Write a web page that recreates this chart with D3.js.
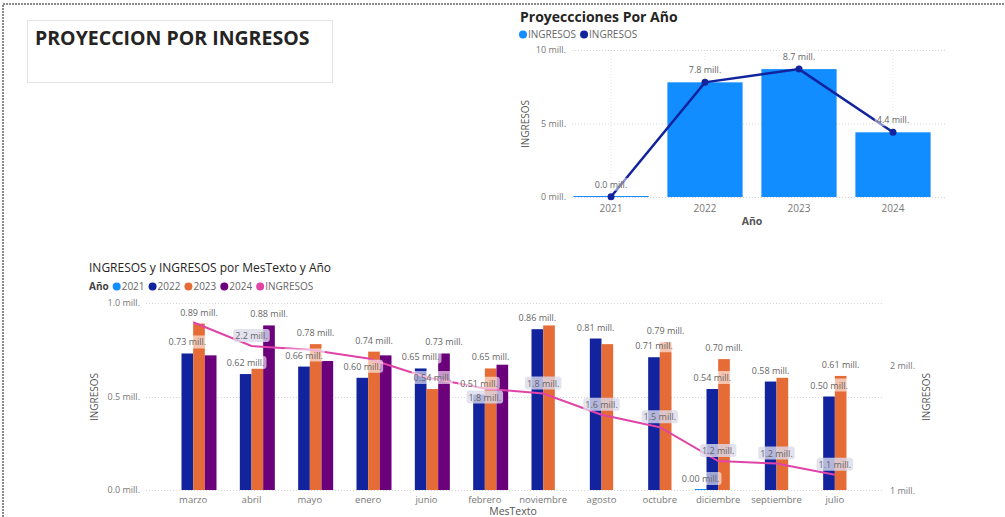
<!DOCTYPE html>
<meta charset='utf-8'>
<style>
  body{margin:0;background:#fff;}
  svg{font-family:'Open Sans','Noto Sans',sans-serif;}
  .grid line{stroke:#d6d6d6;stroke-dasharray:1,2;}
  .tick-lbl{fill:#777;font-size:9px;}
  .dlbl{fill:#666;font-size:9px;}
</style>
<svg width='1005' height='517'></svg>
<script src="https://d3js.org/d3.v7.min.js"></script>
<script>
  // ---- top chart data
  var annos = ['2021', '2022', '2023', '2024'];
  var ingresosAnio = [0.02, 7.8, 8.7, 4.4];
  var anioTicks = [0, 5, 10];

  // ---- bottom chart data
  var meses = ['marzo','abril','mayo','enero','junio','febrero','noviembre','agosto','octubre','diciembre','septiembre','julio'];
  var serieAnios = ['2021', '2022', '2023', '2024'];
  var v2021 = [null, null, null, null, null, null, null, null, null, 0.0, null, null];
  var v2022 = [0.73, 0.62, 0.66, 0.60, 0.65, 0.51, 0.86, 0.81, 0.71, 0.54, 0.58, 0.50];
  var v2023 = [0.89, 0.65, 0.78, 0.74, 0.54, 0.65, 0.88, 0.78, 0.79, 0.70, 0.60, 0.61];
  var v2024 = [0.72, 0.88, 0.69, 0.72, 0.73, 0.67, null, null, null, null, null, null];
  var lineaIngresos = [2.35, 2.16, 2.13, 2.06, 1.91, 1.82, 1.78, 1.61, 1.51, 1.24, 1.22, 1.13];
  var leftTicks = [0, 0.5, 1.0];
  var rightTicks = [1, 2];
  // labels shown on the bars (mes|año), the rest are hidden like in the report
  var barLabels = ['marzo|2022','marzo|2023','abril|2022','abril|2024','mayo|2022','mayo|2023',
    'enero|2022','enero|2023','junio|2022','junio|2023','junio|2024','febrero|2022','febrero|2023',
    'noviembre|2022','agosto|2022','octubre|2022','octubre|2023','diciembre|2021','diciembre|2022',
    'diciembre|2023','septiembre|2022','julio|2022','julio|2023'];
  var lineLabels = ['abril','febrero','noviembre','agosto','octubre','diciembre','septiembre','julio'];

  var colores = {'2021':'#118DFF','2022':'#12239E','2023':'#E66C37','2024':'#6B007B'};
  var rosa = '#E044A7';

  var svg = d3.select('svg');

  // page frame (dotted, top and left edges visible)
  svg.append('path').attr('d', 'M3,520 V4 H1005')
    .attr('fill', 'none').attr('stroke', '#8a8a8a').attr('stroke-width', 2).attr('stroke-dasharray', '2,1');

  // title card
  svg.append('rect').attr('x', 27.5).attr('y', 20.5).attr('width', 305).attr('height', 62)
    .attr('fill', '#fff').attr('stroke', '#e4e4e4');
  svg.append('text').attr('x', 35).attr('y', 45).attr('font-size', 19.5).attr('font-weight', 'bold')
    .attr('fill', '#252423').text('PROYECCION POR INGRESOS');

  function legend(g, items, x, y) {
    items.forEach(function(it) {
      if (it.color) {
        g.append('circle').attr('cx', x + 4).attr('cy', y - 3.5).attr('r', 4).attr('fill', it.color);
        x += 9;
      }
      var t = g.append('text').attr('x', x).attr('y', y).attr('font-size', 10)
        .attr('fill', it.bold ? '#444' : '#666').attr('font-weight', it.bold ? 'bold' : null).text(it.text);
      x += t.node().getComputedTextLength() + 4;
    });
  }

  function labelBox(g, x, y, txt, bg, op) {
    var t = g.append('text').attr('class', 'dlbl').attr('x', x).attr('y', y + 3).attr('text-anchor', 'middle').text(txt);
    var w = t.node().getComputedTextLength();
    g.insert('rect', function() { return t.node(); })
      .attr('x', x - w / 2 - 2).attr('y', y - 7).attr('width', w + 4).attr('height', 13).attr('rx', 3)
      .attr('fill', bg).attr('opacity', op);
  }

  // ================= top chart
  var gTop = svg.append('g');
  gTop.append('text').attr('x', 520).attr('y', 22).attr('font-size', 14).attr('font-weight', 'bold')
    .attr('fill', '#252423').text('Proyeccciones Por Año');
  legend(gTop, [{text:'INGRESOS', color:'#118DFF'}, {text:'INGRESOS', color:'#12239E'}], 519, 38);

  var xa = d3.scaleBand().domain(annos).range([564, 940]).paddingInner(0.2).paddingOuter(0.1);
  var ya = d3.scaleLinear().domain([0, 10]).range([197, 50]);

  var ga = gTop.append('g').attr('class', 'grid');
  ga.selectAll('line.h').data(anioTicks).enter().append('line')
    .attr('x1', 572).attr('x2', 945).attr('y1', function(d) { return ya(d) + 0.5; }).attr('y2', function(d) { return ya(d) + 0.5; });
  ga.selectAll('line.v').data(annos).enter().append('line')
    .attr('x1', function(d) { return xa(d) + xa.bandwidth() / 2; }).attr('x2', function(d) { return xa(d) + xa.bandwidth() / 2; })
    .attr('y1', 50).attr('y2', 197).style('opacity', 0.6);

  gTop.selectAll('text.yt').data(anioTicks).enter().append('text').attr('class', 'tick-lbl')
    .attr('x', 566).attr('y', function(d) { return ya(d) + 3; }).attr('text-anchor', 'end')
    .text(function(d) { return d + ' mill.'; });
  gTop.selectAll('text.xt').data(annos).enter().append('text').attr('class', 'tick-lbl')
    .attr('x', function(d) { return xa(d) + xa.bandwidth() / 2; }).attr('y', 212).attr('text-anchor', 'middle')
    .style('font-size', '10px').text(function(d) { return d; });
  gTop.append('text').attr('x', 752).attr('y', 225).attr('text-anchor', 'middle').attr('font-size', 10.5)
    .attr('font-weight', 'bold').attr('fill', '#555').text('Año');
  gTop.append('text').attr('transform', 'translate(529,124) rotate(-90)').attr('text-anchor', 'middle')
    .attr('font-size', 10).attr('fill', '#555').text('INGRESOS');

  gTop.selectAll('rect.bar').data(ingresosAnio).enter().append('rect')
    .attr('x', function(d, i) { return xa(annos[i]); })
    .attr('y', function(d) { return Math.min(ya(d), ya(0) - 1); })
    .attr('width', xa.bandwidth())
    .attr('height', function(d) { return Math.max(ya(0) - ya(d), 1); })
    .attr('fill', '#118DFF');

  var lineA = d3.line().x(function(d, i) { return xa(annos[i]) + xa.bandwidth() / 2; }).y(function(d) { return ya(d); });
  gTop.append('path').attr('d', lineA(ingresosAnio)).attr('fill', 'none').attr('stroke', '#12239E').attr('stroke-width', 2.5);
  gTop.selectAll('circle.pt').data(ingresosAnio).enter().append('circle')
    .attr('cx', function(d, i) { return xa(annos[i]) + xa.bandwidth() / 2; }).attr('cy', function(d) { return ya(d); })
    .attr('r', 3.5).attr('fill', '#12239E');
  ingresosAnio.forEach(function(d, i) {
    labelBox(gTop, xa(annos[i]) + xa.bandwidth() / 2, ya(d) - 12, d.toFixed(1) + ' mill.', '#fff', 0.5);
  });

  // ================= bottom chart
  var gBot = svg.append('g');
  gBot.append('text').attr('x', 89).attr('y', 272).attr('font-size', 12).attr('fill', '#252423')
    .text('INGRESOS y INGRESOS por MesTexto y Año');
  legend(gBot, [{text:'Año', bold:true}].concat(serieAnios.map(function(a) { return {text:a, color:colores[a]}; }))
    .concat([{text:'INGRESOS', color:rosa}]), 89, 290);

  var x0 = d3.scaleBand().domain(meses).range([164, 864]);
  var x1 = d3.scaleBand().domain(serieAnios).range([0, x0.bandwidth()]).paddingOuter(0.5);
  var yl = d3.scaleLinear().domain([0, 1]).range([490, 303]);
  var yr = d3.scaleLinear().domain([1, 2]).range([491, 366]);

  var gb = gBot.append('g').attr('class', 'grid');
  gb.selectAll('line').data(leftTicks).enter().append('line')
    .attr('x1', 146).attr('x2', 882).attr('y1', function(d) { return Math.round(yl(d)) + 0.5; }).attr('y2', function(d) { return Math.round(yl(d)) + 0.5; });

  gBot.selectAll('text.yl').data(leftTicks).enter().append('text').attr('class', 'tick-lbl')
    .attr('x', 140).attr('y', function(d) { return yl(d) + 3; }).attr('text-anchor', 'end')
    .text(function(d) { return d.toFixed(1) + ' mill.'; });
  gBot.selectAll('text.yr').data(rightTicks).enter().append('text').attr('class', 'tick-lbl')
    .attr('x', 890).attr('y', function(d) { return yr(d) + 3; })
    .text(function(d) { return d + ' mill.'; });
  gBot.selectAll('text.xt').data(meses).enter().append('text').attr('class', 'tick-lbl')
    .attr('x', function(d) { return x0(d) + x0.bandwidth() / 2; }).attr('y', 503).attr('text-anchor', 'middle')
    .style('font-size', '9.5px').text(function(d) { return d; });
  gBot.append('text').attr('x', 513).attr('y', 515).attr('text-anchor', 'middle').attr('font-size', 10.5)
    .attr('fill', '#555').text('MesTexto');
  gBot.append('text').attr('transform', 'translate(98,397) rotate(-90)').attr('text-anchor', 'middle')
    .attr('font-size', 10).attr('fill', '#555').text('INGRESOS');
  gBot.append('text').attr('transform', 'translate(930,397) rotate(-90)').attr('text-anchor', 'middle')
    .attr('font-size', 10).attr('fill', '#555').text('INGRESOS');

  var series = {'2021': v2021, '2022': v2022, '2023': v2023, '2024': v2024};
  var barData = [];
  meses.forEach(function(m, i) {
    serieAnios.forEach(function(a) {
      var v = series[a][i];
      if (v !== null) barData.push({mes: m, anio: a, v: v});
    });
  });

  gBot.selectAll('rect.bar').data(barData).enter().append('rect')
    .attr('x', function(d) { return x0(d.mes) + x1(d.anio); })
    .attr('y', function(d) { return Math.min(yl(d.v), yl(0) - 1); })
    .attr('width', x1.bandwidth())
    .attr('height', function(d) { return Math.max(yl(0) - yl(d.v), 1); })
    .attr('fill', function(d) { return colores[d.anio]; });

  var lineB = d3.line().x(function(d, i) { return x0(meses[i]) + x0.bandwidth() / 2; }).y(function(d) { return yr(d); });
  gBot.append('path').attr('d', lineB(lineaIngresos)).attr('fill', 'none').attr('stroke', rosa).attr('stroke-width', 2);

  var lblLayer = gBot.append('g');
  barData.forEach(function(d) {
    if (barLabels.indexOf(d.mes + '|' + d.anio) < 0) return;
    labelBox(lblLayer, x0(d.mes) + x1(d.anio) + x1.bandwidth() / 2, yl(d.v) - 11, d.v.toFixed(2) + ' mill.', '#fff', 0.6);
  });
  lineaIngresos.forEach(function(d, i) {
    if (lineLabels.indexOf(meses[i]) < 0) return;
    var dy = meses[i] === 'febrero' ? 9 : -10;
    labelBox(lblLayer, x0(meses[i]) + x0.bandwidth() / 2, yr(d) + dy, d.toFixed(1) + ' mill.', '#dcdcec', 0.8);
  });
</script>
